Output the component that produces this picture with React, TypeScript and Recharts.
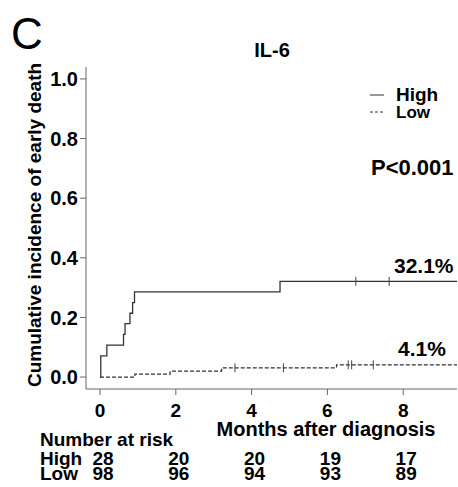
import { ComposedChart, Line, Scatter, XAxis, YAxis } from "recharts";

// step points (months, cumulative incidence)
const highT = [0, 0.02, 0.18, 0.62, 0.66, 0.79, 0.86, 0.91, 4.75, 9.42];
const highV = [0, 0.071, 0.107, 0.143, 0.179, 0.214, 0.25, 0.286, 0.321, 0.321];
const lowT = [0, 0.92, 1.85, 3.21, 6.24, 9.42];
const lowV = [0, 0.01, 0.02, 0.031, 0.041, 0.041];

// censored observations
const highCensT = [6.75, 7.63];
const highCensV = [0.321, 0.321];
const lowCensT = [3.56, 4.84, 6.55, 6.64, 7.21];
const lowCensV = [0.031, 0.031, 0.041, 0.041, 0.041];

const xTicks = [0, 2, 4, 6, 8];
const yTicks = [0, 0.2, 0.4, 0.6, 0.8, 1.0];
const riskHigh = [28, 20, 20, 19, 17];
const riskLow = [98, 96, 94, 93, 89];

const highData = highT.map((t, i) => ({ t, v: highV[i] }));
const lowData = lowT.map((t, i) => ({ t, v: lowV[i] }));
const highCens = highCensT.map((t, i) => ({ t, v: highCensV[i] }));
const lowCens = lowCensT.map((t, i) => ({ t, v: lowCensV[i] }));

const FONT = "'Liberation Sans', Arial, Helvetica, sans-serif";
const AXIS = "#666";

const censorMark = (props: any) => {
  const { cx, cy } = props;
  return <line x1={cx} x2={cx} y1={cy - 4.5} y2={cy + 4.5} stroke="#444" strokeWidth={1} />;
};

const XTick = (props: any) => {
  const { x, y, payload, index } = props;
  return (
    <g fontFamily={FONT} fontWeight={700} fill="#000">
      <text x={x} y={y + 20} textAnchor="middle" fontSize={19}>
        {payload.value}
      </text>
      <text x={x + 3} y={y + 68} textAnchor="middle" fontSize={19}>
        {riskHigh[index]}
      </text>
      <text x={x + 3} y={y + 83} textAnchor="middle" fontSize={19}>
        {riskLow[index]}
      </text>
    </g>
  );
};

export default function App() {
  return (
    <div style={{ position: "absolute", left: 0, top: 0, width: 458, height: 487, background: "#fff" }}>
      <ComposedChart width={458} height={487} margin={{ top: 67, right: 1, bottom: 68, left: 36 }}>
        <XAxis
          type="number"
          dataKey="t"
          domain={[-0.37, 9.42]}
          ticks={xTicks}
          allowDataOverflow
          stroke={AXIS}
          tickSize={6}
          height={30}
          tick={<XTick />}
        />
        <YAxis
          type="number"
          dataKey="v"
          domain={[-0.04, 1.04]}
          ticks={yTicks}
          allowDataOverflow
          stroke={AXIS}
          tickSize={6}
          width={50}
          tickFormatter={(v: number) => v.toFixed(1)}
          tick={{ fill: "#000", fontSize: 20, fontWeight: 700, fontFamily: FONT }}
        />
        <Line
          data={highData}
          dataKey="v"
          type="stepAfter"
          stroke="#333"
          strokeWidth={1.3}
          dot={false}
          activeDot={false}
          isAnimationActive={false}
        />
        <Line
          data={lowData}
          dataKey="v"
          type="stepAfter"
          stroke="#333"
          strokeWidth={1.2}
          strokeDasharray="4 2"
          dot={false}
          activeDot={false}
          isAnimationActive={false}
        />
        <Scatter data={highCens} dataKey="v" shape={censorMark} isAnimationActive={false} />
        <Scatter data={lowCens} dataKey="v" shape={censorMark} isAnimationActive={false} />
      </ComposedChart>
      <svg
        width={458}
        height={487}
        style={{ position: "absolute", left: 0, top: 0, pointerEvents: "none" }}
        fontFamily={FONT}
      >
        <text x={11} y={49} fontSize={44} fill="#000">C</text>
        <text x={272} y={57} fontSize={20} fontWeight={700} textAnchor="middle">IL-6</text>
        <text
          x={0}
          y={0}
          fontSize={19}
          fontWeight={700}
          textAnchor="middle"
          transform="translate(41 225) rotate(-90)"
        >
          Cumulative incidence of early death
        </text>
        <line x1={370} x2={384} y1={95} y2={95} stroke="#333" strokeWidth={1} />
        <line x1={370} x2={384} y1={112} y2={112} stroke="#333" strokeWidth={1} strokeDasharray="3 2" />
        <text x={396} y={101} fontSize={19} fontWeight={700}>High</text>
        <text x={396} y={118} fontSize={17} fontWeight={700}>Low</text>
        <text x={371} y={175} fontSize={22} fontWeight={700}>P&lt;0.001</text>
        <text x={394} y={273} fontSize={21} fontWeight={700}>32.1%</text>
        <text x={398} y={356} fontSize={21} fontWeight={700}>4.1%</text>
        <text x={326} y={436} fontSize={20} fontWeight={700} textAnchor="middle">Months after diagnosis</text>
        <text x={40} y={446} fontSize={19} fontWeight={700}>Number at risk</text>
        <text x={40} y={465} fontSize={19} fontWeight={700}>High</text>
        <text x={40} y={480} fontSize={19} fontWeight={700}>Low</text>
      </svg>
    </div>
  );
}
